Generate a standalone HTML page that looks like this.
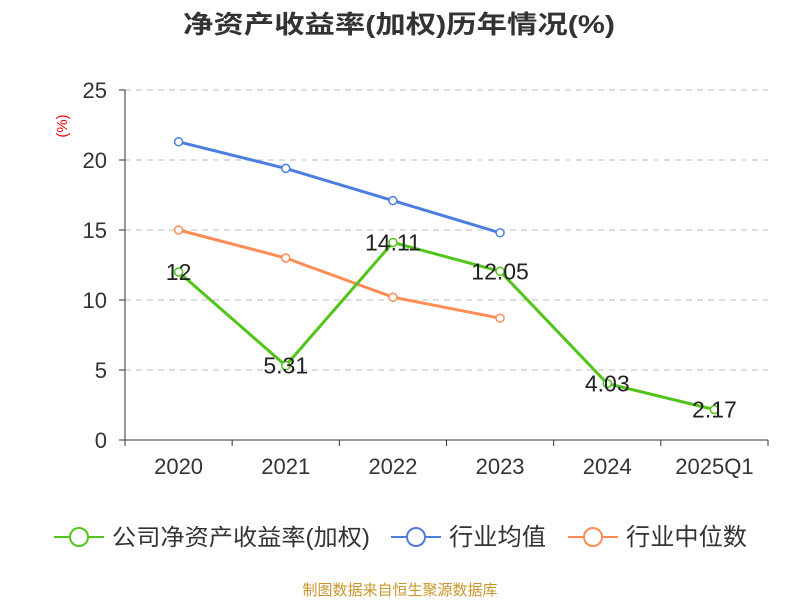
<!DOCTYPE html>
<html><head><meta charset="utf-8"><style>
body{margin:0;background:#fff;font-family:"Liberation Sans","Noto Sans CJK SC",sans-serif;}
</style></head><body>
<svg id="chart" width="800" height="600" xmlns="http://www.w3.org/2000/svg" font-family="Liberation Sans, Noto Sans CJK SC, sans-serif">
<text x="183" y="33" textLength="432" lengthAdjust="spacingAndGlyphs" font-size="25" font-weight="bold" fill="#333">净资产收益率(加权)历年情况(%)</text>
<text x="62" y="126" font-size="15" fill="#e00" text-anchor="middle" transform="rotate(-90 62 126)" dy="5">(%)</text>
<g id="grid"></g><g id="axes"></g><g id="series"></g>
<g>
<g><line x1="54" y1="537" x2="104" y2="537" stroke="#52c41a" stroke-width="2"/><circle cx="79" cy="537" r="9" fill="#fff" stroke="#52c41a" stroke-width="2"/><text x="112" y="545" font-size="23" textLength="258" lengthAdjust="spacingAndGlyphs" fill="#333">公司净资产收益率(加权)</text></g>
<g><line x1="391" y1="537" x2="441" y2="537" stroke="#4a7fe0" stroke-width="2"/><circle cx="416" cy="537" r="9" fill="#fff" stroke="#4a7fe0" stroke-width="2"/><text x="449" y="545" font-size="24" textLength="97" lengthAdjust="spacingAndGlyphs" fill="#333">行业均值</text></g>
<g><line x1="568" y1="537" x2="618" y2="537" stroke="#ff8c55" stroke-width="2"/><circle cx="593" cy="537" r="9" fill="#fff" stroke="#ff8c55" stroke-width="2"/><text x="626" y="545" font-size="24" textLength="121" lengthAdjust="spacingAndGlyphs" fill="#333">行业中位数</text></g>
</g>
<text x="400" y="595" text-anchor="middle" font-size="15" fill="#c8962a">制图数据来自恒生聚源数据库</text>
</svg>
<script>
const categories=["2020","2021","2022","2023","2024","2025Q1"];
const company=[12,5.31,14.11,12.05,4.03,2.17];
const companyLabels=["12","5.31","14.11","12.05","4.03","2.17"];
const industryAvg=[21.3,19.4,17.1,14.8];
const industryMedian=[15,13,10.2,8.7];
const yTicks=[0,5,10,15,20,25];
const NS="http://www.w3.org/2000/svg";
const x0=125,x1=768,y0=440,yTop=90;
const bw=(x1-x0)/categories.length;
const xs=i=>x0+bw*(i+0.5);
const ys=v=>y0-(v/25)*(y0-yTop);
function mk(t,a,p){const e=document.createElementNS(NS,t);for(const k in a)e.setAttribute(k,a[k]);p.appendChild(e);return e;}
const grid=document.getElementById('grid'),axes=document.getElementById('axes'),ser=document.getElementById('series');
yTicks.forEach(v=>{
 if(v>0){const g=mk('line',{x1:x0,x2:x1,y1:ys(v),y2:ys(v),stroke:'#bbb','stroke-dasharray':'6,5'},grid);
 
 }
 const t=mk('text',{x:x0-18,y:ys(v)+8,'text-anchor':'end','font-size':22,fill:'#333'},axes);t.textContent=v;
 
 
 mk('line',{x1:x0-6,x2:x0,y1:ys(v),y2:ys(v),stroke:'#333'},axes);
});
const ya=mk('line',{x1:x0,x2:x0,y1:yTop,y2:y0,stroke:'#333'},axes);


const xa=mk('line',{x1:x0,x2:x1,y1:y0,y2:y0,stroke:'#333'},axes);


for(let i=0;i<=categories.length;i++)mk('line',{x1:x0+bw*i,x2:x0+bw*i,y1:y0,y2:y0+6,stroke:'#333'},axes);
categories.forEach((c,i)=>{const t=mk('text',{x:xs(i),y:y0+34,'text-anchor':'middle','font-size':22,fill:'#333'},axes);t.textContent=c;
 
 });
function line(data,color,name){
 const p=mk('polyline',{points:data.map((v,i)=>xs(i)+','+ys(v)).join(' '),fill:'none',stroke:color,'stroke-width':3},ser);
 
 
 data.forEach((v,i)=>{const c=mk('circle',{cx:xs(i),cy:ys(v),r:4,fill:'#fff',stroke:color,'stroke-width':1.5},ser);
 
 });
}
line(industryAvg,'#4a7fe0','industry-avg');
line(industryMedian,'#ff8c55','industry-median');
line(company,'#52c41a','company');
company.forEach((v,i)=>{const t=mk('text',{x:xs(i),y:ys(v)+8,'text-anchor':'middle','font-size':23,fill:'#222'},ser);t.textContent=companyLabels[i];
 
 });
</script>
</body></html>
